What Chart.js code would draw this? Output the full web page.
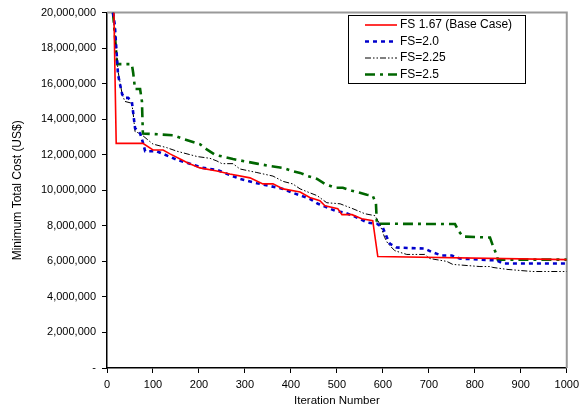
<!DOCTYPE html>
<html>
<head>
<meta charset="utf-8">
<script src="https://cdn.jsdelivr.net/npm/chart.js@4.4.1/dist/chart.umd.min.js"></script>
<style>
html, body { margin: 0; padding: 0; background: #fff; }
#wrap { width: 584px; height: 409px; }
</style>
</head>
<body>
<div id="wrap"><canvas id="costChart" width="584" height="409"></canvas></div>
<script>

/* DATA (cost in millions of US$) */

const xTicks = [0, 100, 200, 300, 400, 500, 600, 700, 800, 900, 1000];
const yTickLabels = ["-", "2,000,000", "4,000,000", "6,000,000", "8,000,000", "10,000,000",
  "12,000,000", "14,000,000", "16,000,000", "18,000,000", "20,000,000"];

const seriesNames = ["FS 1.67 (Base Case)", "FS=2.0", "FS=2.25", "FS=2.5"];

const redIter = [15, 20, 78, 100, 122, 137, 159, 176, 202, 239, 267, 311, 339, 361, 383, 420, 441, 463, 474, 502, 511, 533, 554, 578, 589, 1000];
const redCost = [20, 12.64, 12.64, 12.27, 12.27, 12.05, 11.76, 11.54, 11.26, 11.09, 10.92, 10.7, 10.36, 10.36, 10.08, 9.9, 9.6, 9.41, 9.13, 8.96, 8.63, 8.63, 8.4, 8.29, 6.27, 6.1];

const blueIter = [13, 17, 24, 33, 39, 46, 54, 61, 72, 78, 83, 108, 154, 180, 209, 239, 289, 326, 383, 404, 441, 459, 480, 496, 517, 535, 567, 587, 600, 607, 615, 630, 691, 709, 728, 750, 767, 811, 848, 861, 1000];
const blueCost = [20, 19.3, 16.5, 15.4, 15.2, 15.2, 15.0, 13.5, 13.2, 12.7, 12.2, 12.2, 11.7, 11.5, 11.26, 11.15, 10.64, 10.4, 10.08, 9.86, 9.52, 9.24, 9.02, 8.85, 8.74, 8.57, 8.18, 8.12, 7.9, 7.45, 7.0, 6.78, 6.72, 6.5, 6.33, 6.33, 6.16, 6.1, 6.05, 5.88, 5.88];

const blackIter = [13, 24, 33, 39, 54, 57, 61, 72, 100, 130, 152, 196, 224, 239, 250, 274, 289, 326, 361, 383, 404, 420, 441, 457, 478, 507, 535, 561, 583, 593, 604, 611, 626, 652, 691, 702, 739, 752, 811, 833, 839, 870, 893, 926, 1000];
const blackCost = [20, 16.7, 15.4, 15.0, 14.9, 14.3, 13.3, 13.2, 12.6, 12.4, 12.2, 11.9, 11.8, 11.65, 11.5, 11.5, 11.2, 11.0, 10.8, 10.5, 10.36, 10.08, 9.86, 9.7, 9.3, 9.24, 8.96, 8.68, 8.57, 8.12, 7.34, 7.0, 6.6, 6.39, 6.39, 6.16, 6.0, 5.83, 5.71, 5.71, 5.66, 5.55, 5.5, 5.43, 5.43];

const greenIter = [13, 17, 22, 54, 57, 61, 72, 76, 78, 143, 165, 202, 217, 235, 274, 326, 354, 383, 402, 420, 437, 457, 474, 496, 513, 533, 550, 565, 578, 585, 587, 757, 765, 774, 833, 839, 848, 850, 1000];
const greenCost = [20, 18.8, 17.1, 17.1, 16.6, 15.7, 15.7, 15.0, 13.2, 13.1, 12.9, 12.6, 12.3, 12.0, 11.76, 11.5, 11.37, 11.26, 11.09, 10.98, 10.8, 10.64, 10.36, 10.14, 10.14, 9.97, 9.86, 9.75, 9.7, 9.24, 8.12, 8.1, 7.7, 7.4, 7.34, 6.9, 6.33, 6.1, 6.1];

function toPoints(xs, ys) {
  return xs.map((x, i) => ({ x: x, y: ys[i] }));
}

const FONT = "'Liberation Sans', Arial, sans-serif";

/* plot frame (gray top/right) */
const framePlugin = {
  id: "frame",
  beforeDatasetsDraw(chart) {
    const a = chart.chartArea;
    const ctx = chart.ctx;
    ctx.save();
    ctx.strokeStyle = "#999";
    ctx.lineWidth = 2;
    ctx.beginPath();
    ctx.moveTo(a.left, a.top);
    ctx.lineTo(a.right, a.top);
    ctx.lineTo(a.right, a.bottom);
    ctx.stroke();
    ctx.restore();
  }
};

/* boxed legend inside plot */
const legendBox = {
  id: "legendBox",
  afterDraw(chart) {
    const ctx = chart.ctx;
    const bx = 348, by = 15, bw = 177, bh = 68;
    ctx.save();
    ctx.fillStyle = "#fff";
    ctx.fillRect(bx, by, bw, bh);
    ctx.strokeStyle = "#000";
    ctx.lineWidth = 1;
    ctx.strokeRect(bx + 0.5, by + 0.5, bw, bh);
    ctx.font = "12px " + FONT;
    ctx.textBaseline = "middle";
    chart.data.datasets.forEach((ds, i) => {
      const y = by + 10 + i * 16.5;
      ctx.strokeStyle = ds.borderColor;
      ctx.lineWidth = ds.borderWidth;
      ctx.setLineDash(ds.borderDash || []);
      ctx.beginPath();
      ctx.moveTo(365, y);
      ctx.lineTo(397, y);
      ctx.stroke();
      ctx.setLineDash([]);
      ctx.fillStyle = "#000";
      ctx.fillText(ds.label, 400, y);
    });
    ctx.restore();
  }
};

const ctx = document.getElementById("costChart");

new Chart(ctx, {

type: "line",

data: {
datasets: [
{
label: seriesNames[0],
data: toPoints(redIter, redCost),
borderColor: "#ff0000",
borderWidth: 1.6
},
{
label: seriesNames[1],
data: toPoints(blueIter, blueCost),
borderColor: "#0000cc",
borderWidth: 2.6,
borderDash: [4, 4]
},
{
label: seriesNames[2],
data: toPoints(blackIter, blackCost),
borderColor: "#000000",
borderWidth: 1,
borderDash: [6, 2, 1.5, 2, 1.5, 2]
},
{
label: seriesNames[3],
data: toPoints(greenIter, greenCost),
borderColor: "#006600",
borderWidth: 2.6,
borderDash: [10, 5, 3, 5]
}
]
},

options: {

responsive: false,
animation: false,
layout: { padding: { left: 0, right: 17, top: 10, bottom: 0 } },
elements: {
line: { tension: 0, fill: false },
point: { radius: 0 }
},

plugins: {
legend: { display: false },
tooltip: { enabled: false }
},

scales: {

x: {
type: "linear",
min: 0,
max: 1000,
afterBuildTicks: s => { s.ticks = xTicks.map(v => ({ value: v })); },
afterFit: s => { s.height = 41; },
ticks: {
color: "#000",
padding: 5,
maxRotation: 0,
font: { family: FONT, size: 11 },
callback: (v, i) => String(xTicks[i])
},
grid: { drawOnChartArea: false, drawTicks: true, tickLength: 5, color: "#000" },
border: { display: true, color: "#000", width: 1.5 },
title: {
display: true,
text: "Iteration Number",
color: "#000",
font: { family: FONT, size: 11.5 },
padding: { top: 0, bottom: 1 }
}
},

y: {
min: 0,
max: 20,
afterBuildTicks: s => { s.ticks = yTickLabels.map((t, i) => ({ value: i * 2 })); },
afterFit: s => { s.width = 107; },
ticks: {
color: "#000",
padding: 6,
font: { family: FONT, size: 11 },
callback: (v, i) => yTickLabels[i]
},
grid: { drawOnChartArea: false, drawTicks: true, tickLength: 5, color: "#000" },
border: { display: true, color: "#000", width: 1.5 },
title: {
display: true,
text: "Minimum Total Cost (US$)",
color: "#000",
font: { family: FONT, size: 12 },
padding: { top: 10, bottom: 0 }
}
}

}

},

plugins: [framePlugin, legendBox]

});

</script>
</body>
</html>
